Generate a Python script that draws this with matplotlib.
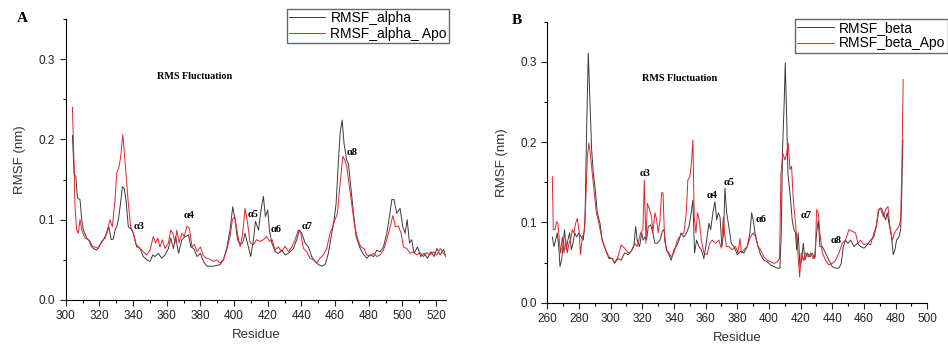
import numpy as np
import matplotlib
matplotlib.use("Agg")
import matplotlib.pyplot as plt
from matplotlib.ticker import MultipleLocator

# --- datos (residuo, RMSF en nm) ---
res_alpha = [304, 305, 306, 307, 308.5, 309.5, 310.5, 312.5, 314.5, 316.4, 318.4, 320.4, 322.4, 324.4,
             325.7, 327, 328.3, 329.3, 330.3, 331.3, 332.3, 333.7, 334.7, 335.8, 337.2, 338.6, 340.2,
             341.8, 344.2, 346.1, 348.1, 350.1, 351.7, 353, 355, 357, 359, 361, 362.4, 364, 365.3, 367,
             369, 371, 373, 374.3, 376, 378, 380, 381.8, 383.8, 387.7, 391.7, 393.7, 395.6, 397.6, 399.2,
             400.6, 402, 403.6, 405.1, 406.5, 407.9, 409.9, 411.5, 412.7, 414.5, 416, 417.4, 418.6, 420,
             421, 422.4, 424.4, 426.3, 428.3, 430.3, 432.3, 435.2, 437.2, 438.8, 440.2, 442.2, 444.2,
             446.1, 448.1, 450.1, 452.1, 454.1, 456, 458, 459.4, 460.6, 462, 463, 464.2, 465.3, 466.9,
             467.9, 469.3, 470.9, 472.5, 474.5, 476.4, 478.8, 480.8, 482.8, 484.8, 486.7, 488.7, 490.7,
             492.3, 493.7, 495, 496.6, 498.6, 500.2, 501.6, 502.8, 504.2, 505.5, 506.9, 508.9, 510.9,
             512.9, 514.9, 516.8, 518.8, 520.4, 522.4, 524.4, 525.5]
rmsf_alpha = [0.205, 0.156, 0.154, 0.127, 0.125, 0.100, 0.087, 0.077, 0.073, 0.064, 0.062, 0.069, 0.075,
              0.083, 0.091, 0.075, 0.076, 0.087, 0.091, 0.100, 0.116, 0.141, 0.139, 0.125, 0.091, 0.089,
              0.083, 0.069, 0.064, 0.054, 0.050, 0.048, 0.056, 0.054, 0.058, 0.052, 0.056, 0.064, 0.077,
              0.064, 0.079, 0.058, 0.075, 0.079, 0.081, 0.066, 0.064, 0.054, 0.058, 0.048, 0.042, 0.042,
              0.044, 0.050, 0.064, 0.087, 0.116, 0.100, 0.075, 0.069, 0.071, 0.083, 0.071, 0.054, 0.075,
              0.098, 0.087, 0.112, 0.129, 0.104, 0.112, 0.087, 0.071, 0.060, 0.058, 0.062, 0.056, 0.058,
              0.064, 0.075, 0.087, 0.083, 0.071, 0.066, 0.054, 0.048, 0.044, 0.042, 0.044, 0.058, 0.083,
              0.100, 0.120, 0.174, 0.208, 0.224, 0.195, 0.174, 0.170, 0.141, 0.108, 0.079, 0.066, 0.058,
              0.052, 0.056, 0.054, 0.062, 0.060, 0.066, 0.083, 0.104, 0.125, 0.125, 0.108, 0.114, 0.091,
              0.083, 0.100, 0.071, 0.075, 0.058, 0.066, 0.054, 0.058, 0.052, 0.060, 0.054, 0.064, 0.056,
              0.063, 0.056]

res_alpha_apo = [304, 305, 305.5, 306.5, 307.5, 308.5, 309.5, 311.5, 313.5, 315.4, 317.4, 319.4, 321.4,
                 323.4, 324.8, 326.3, 327.7, 329.3, 330.3, 331.5, 332.7, 333.9, 334.7, 335.8, 337.2,
                 338.6, 340.2, 342.2, 344.2, 346.1, 348.1, 350.1, 352, 353.4, 354.7, 356, 357.4, 359, 361,
                 362.4, 363.6, 365, 366, 367.3, 369, 370.4, 372, 373.5, 375, 376.4, 378, 380, 381.5,
                 383.4, 385.3, 387.7, 389.7, 391.7, 393.7, 395.6, 397.6, 399, 400.4, 402, 403.6, 405.1,
                 406.5, 407.9, 409.5, 411.5, 413.4, 415.4, 417.4, 419.4, 421, 422.6, 424.4, 426.3, 428.3,
                 430.3, 432.3, 434.3, 436.2, 438.2, 439.6, 441.2, 443.2, 445.1, 447.1, 449.1, 451, 453,
                 455, 457, 458.6, 460, 461.4, 462.6, 463.6, 464.6, 465.8, 466.9, 468.5, 470.1, 471.7,
                 473.3, 475.2, 477.2, 478.8, 480.8, 482.8, 484.8, 486.7, 488.7, 490.7, 492.7, 494.3,
                 495.9, 497.6, 499.2, 500.6, 502.6, 504.6, 506.5, 508.5, 510.5, 512.5, 514.5, 516.4,
                 518.4, 520.4, 522.4, 524.4, 525.7]
rmsf_alpha_apo = [0.240, 0.166, 0.116, 0.087, 0.083, 0.100, 0.087, 0.077, 0.075, 0.066, 0.066, 0.064,
                  0.073, 0.077, 0.087, 0.100, 0.091, 0.125, 0.158, 0.164, 0.179, 0.206, 0.187, 0.158,
                  0.120, 0.091, 0.083, 0.066, 0.064, 0.060, 0.056, 0.062, 0.079, 0.071, 0.077, 0.066,
                  0.075, 0.064, 0.071, 0.087, 0.083, 0.071, 0.087, 0.071, 0.083, 0.079, 0.092, 0.089,
                  0.066, 0.069, 0.060, 0.066, 0.056, 0.052, 0.051, 0.048, 0.050, 0.046, 0.050, 0.062,
                  0.079, 0.100, 0.104, 0.083, 0.066, 0.083, 0.114, 0.098, 0.071, 0.069, 0.075, 0.073,
                  0.075, 0.079, 0.073, 0.075, 0.062, 0.066, 0.060, 0.067, 0.060, 0.066, 0.075, 0.087,
                  0.083, 0.064, 0.060, 0.052, 0.050, 0.046, 0.052, 0.056, 0.064, 0.083, 0.091, 0.100,
                  0.108, 0.137, 0.158, 0.179, 0.174, 0.166, 0.141, 0.116, 0.091, 0.077, 0.066, 0.064,
                  0.056, 0.055, 0.058, 0.054, 0.056, 0.062, 0.075, 0.091, 0.105, 0.091, 0.092, 0.083,
                  0.066, 0.064, 0.058, 0.060, 0.056, 0.059, 0.054, 0.059, 0.056, 0.060, 0.056, 0.064,
                  0.058, 0.054]

res_beta = [263.2, 264.2, 265.3, 266.3, 267.4, 268, 269, 270.1, 270.9, 272, 273, 274.1, 275.2, 276.2,
            277.3, 278.5, 280, 281.5, 282.7, 283.8, 284.8, 285.9, 286.9, 288, 289.1, 290.1, 291.6,
            293.3, 294.7, 296.8, 299, 301.1, 302.5, 304.6, 306.7, 308.8, 311, 313, 314.7, 315.8, 316.8,
            318.3, 319.6, 320.6, 321.7, 322.7, 323.8, 325.3, 326.7, 328, 329.5, 331.2, 332.6, 333.7,
            335.2, 336.8, 338.3, 340, 341.5, 343.2, 344.6, 346.3, 348, 349.5, 350.9, 352, 353, 354.3,
            355.8, 357.3, 358.9, 360.4, 362.1, 363.2, 364.6, 365.9, 367, 368, 369.1, 370.3, 371.4,
            372.2, 373.3, 374.7, 376.2, 377.9, 380, 382.1, 384.2, 386.3, 388, 389.1, 390.1, 391.2,
            392.6, 394.7, 396.8, 399, 401.1, 403.2, 405.3, 406.9, 407.8, 408.6, 409.7, 410.3, 411.2,
            412, 412.8, 413.7, 414.7, 415.8, 416.8, 417.5, 418.5, 419.6, 420.6, 421.7, 422.7, 424.2,
            425.9, 427.4, 428.8, 430.1, 431.2, 432.2, 433.7, 435.8, 437.9, 440, 442.1, 444.2, 445.7,
            447, 448.4, 449.9, 451.6, 453.7, 455.8, 457.9, 460, 462.1, 464.2, 466.3, 467.8, 469.5,
            470.9, 472.2, 473.7, 474.7, 476.2, 477.5, 478.5, 479.6, 480.6, 482.1, 483.2, 483.8, 484.6]
rmsf_beta = [0.082, 0.070, 0.078, 0.087, 0.066, 0.045, 0.053, 0.074, 0.091, 0.066, 0.078, 0.087, 0.066,
             0.074, 0.087, 0.082, 0.087, 0.082, 0.078, 0.099, 0.211, 0.311, 0.253, 0.191, 0.161, 0.145,
             0.112, 0.099, 0.078, 0.066, 0.055, 0.055, 0.049, 0.055, 0.053, 0.062, 0.060, 0.064, 0.070,
             0.095, 0.078, 0.070, 0.087, 0.078, 0.082, 0.078, 0.095, 0.097, 0.087, 0.074, 0.074, 0.078,
             0.089, 0.091, 0.066, 0.060, 0.053, 0.066, 0.070, 0.078, 0.087, 0.082, 0.087, 0.095, 0.112,
             0.128, 0.062, 0.078, 0.070, 0.066, 0.055, 0.074, 0.099, 0.091, 0.112, 0.126, 0.103, 0.112,
             0.107, 0.070, 0.087, 0.143, 0.112, 0.095, 0.074, 0.070, 0.060, 0.064, 0.062, 0.070, 0.087,
             0.112, 0.103, 0.087, 0.074, 0.060, 0.053, 0.051, 0.047, 0.045, 0.043, 0.043, 0.087, 0.191,
             0.253, 0.299, 0.233, 0.161, 0.145, 0.128, 0.103, 0.091, 0.087, 0.066, 0.087, 0.045, 0.053,
             0.074, 0.053, 0.062, 0.057, 0.062, 0.055, 0.087, 0.103, 0.070, 0.070, 0.062, 0.053, 0.045,
             0.043, 0.043, 0.049, 0.070, 0.078, 0.074, 0.078, 0.070, 0.074, 0.070, 0.068, 0.072, 0.078,
             0.082, 0.095, 0.116, 0.118, 0.112, 0.103, 0.112, 0.095, 0.082, 0.060, 0.066, 0.078, 0.082,
             0.091, 0.128, 0.203]

res_beta_apo = [263.2, 263.8, 264.8, 265.9, 266.7, 267.6, 268.4, 269.5, 270.5, 271.6, 272.6, 273.7,
                274.7, 275.8, 276.8, 277.9, 278.9, 280, 281, 282.1, 283.2, 284.2, 285.3, 286.3, 287.4,
                288.4, 289.5, 291, 292.6, 294.7, 296.8, 299, 301.1, 302.5, 304.6, 306.7, 308.8, 311,
                313, 315.1, 316.8, 318.9, 320.4, 321.3, 322.3, 323.2, 324.6, 325.9, 326.7, 328, 329.1,
                330, 331.2, 332.2, 333.1, 334.1, 335.4, 336.8, 338.3, 340, 342.1, 344.2, 346.3, 347.8,
                348.8, 350.1, 351.2, 352, 352.8, 353.9, 354.9, 356, 357.3, 358.9, 361, 362.5, 364.2,
                366.3, 368.4, 369.9, 371.2, 372, 373.1, 374.7, 376.8, 378.9, 380.4, 381.7, 382.7, 384.2,
                386.3, 388.4, 390.1, 391.6, 393.1, 394.7, 396.8, 399, 401.1, 403.2, 405.3, 406.7, 407.6,
                408.8, 410.1, 411.2, 412.2, 413.3, 414.3, 415.4, 416.2, 417.3, 418.3, 419.4, 420.4,
                421.7, 423.2, 424.8, 426.3, 428, 429.3, 430.1, 431.2, 432.2, 433.7, 435.8, 437.9, 440,
                442.1, 444.2, 446.3, 448.4, 450.5, 452.6, 454.7, 456.2, 457.9, 460, 462.1, 464.2, 466.3,
                467.8, 469.1, 470.5, 472.2, 473.7, 475.2, 476.4, 477.9, 479.4, 480.6, 482.1, 483.2, 484,
                484.8]
rmsf_beta_apo = [0.157, 0.091, 0.091, 0.101, 0.099, 0.078, 0.062, 0.082, 0.062, 0.078, 0.062, 0.074,
                 0.078, 0.091, 0.087, 0.099, 0.105, 0.091, 0.060, 0.082, 0.087, 0.120, 0.182, 0.199,
                 0.182, 0.161, 0.141, 0.112, 0.099, 0.078, 0.066, 0.057, 0.055, 0.050, 0.057, 0.072,
                 0.068, 0.062, 0.064, 0.074, 0.070, 0.087, 0.091, 0.153, 0.074, 0.124, 0.116, 0.107,
                 0.087, 0.112, 0.103, 0.087, 0.103, 0.137, 0.137, 0.078, 0.066, 0.062, 0.057, 0.062,
                 0.078, 0.084, 0.087, 0.112, 0.153, 0.157, 0.178, 0.203, 0.107, 0.087, 0.112, 0.103,
                 0.078, 0.062, 0.060, 0.074, 0.078, 0.074, 0.078, 0.068, 0.107, 0.087, 0.070, 0.070,
                 0.066, 0.070, 0.062, 0.080, 0.062, 0.066, 0.070, 0.082, 0.087, 0.082, 0.070, 0.066,
                 0.057, 0.053, 0.051, 0.049, 0.051, 0.055, 0.161, 0.186, 0.178, 0.186, 0.199, 0.166,
                 0.170, 0.128, 0.112, 0.087, 0.062, 0.032, 0.062, 0.053, 0.062, 0.057, 0.062, 0.055,
                 0.057, 0.116, 0.112, 0.087, 0.062, 0.053, 0.047, 0.049, 0.053, 0.062, 0.074, 0.078,
                 0.091, 0.089, 0.087, 0.074, 0.078, 0.072, 0.074, 0.072, 0.087, 0.095, 0.116, 0.118,
                 0.107, 0.116, 0.120, 0.095, 0.078, 0.087, 0.091, 0.095, 0.103, 0.170, 0.278]

# etiquetas de helices (x, y)
lab_alpha = ["α3", "α4", "α5", "α6", "α7", "α8"]
pos_alpha = [(343.5, 0.092), (373.4, 0.105), (411.5, 0.107), (425.0, 0.088), (443.6, 0.091), (470.0, 0.184)]
lab_beta = ["α3", "α4", "α5", "α6", "α7", "α8"]
pos_beta = [(321.5, 0.161), (364.0, 0.134), (374.8, 0.150), (395.2, 0.104), (423.2, 0.109), (442.6, 0.077)]

negro = "#3a3a3a"
rojo = "#e3232c"
serif = "Liberation Serif"
plt.rcParams["font.family"] = ["Liberation Sans", "DejaVu Sans"]

fig = plt.figure(figsize=(9.48, 3.52), dpi=100)
axA = fig.add_axes([0.0693, 0.148, 0.4014, 0.798])
axB = fig.add_axes([0.5773, 0.140, 0.4008, 0.798])


def formato(ax, xmin, xmax):
    ax.set_xlim(xmin, xmax)
    ax.set_ylim(0, 0.35)
    ax.spines["top"].set_visible(False)
    ax.spines["right"].set_visible(False)
    ax.xaxis.set_major_locator(MultipleLocator(20))
    ax.xaxis.set_minor_locator(MultipleLocator(10))
    ax.yaxis.set_major_locator(MultipleLocator(0.1))
    ax.yaxis.set_minor_locator(MultipleLocator(0.05))
    ax.tick_params(which="major", length=4, width=0.8, labelsize=8.5, colors="#222222")
    ax.tick_params(which="minor", length=2.5, width=0.8)
    ax.set_xlabel("Residue", fontsize=9.5, color="#333333", labelpad=5)
    ax.set_ylabel("RMSF (nm)", fontsize=9.5, color="#333333", labelpad=9)


# --- Panel A ---
axA.plot(res_alpha, rmsf_alpha, color=negro, lw=0.7, label="RMSF_alpha")
axA.plot(res_alpha_apo, rmsf_alpha_apo, color=rojo, lw=0.7, label="RMSF_alpha_ Apo")
formato(axA, 300, 526)
for t, (x, y) in zip(lab_alpha, pos_alpha):
    axA.text(x, y, t, family=serif, fontweight="bold", fontsize=7.5, ha="center", va="center")
axA.text(0.34, 0.795, "RMS Fluctuation", transform=axA.transAxes, family=serif,
         fontweight="bold", fontsize=7.3, ha="center", va="center")
fig.text(0.024, 0.948, "A", family=serif, fontweight="bold", fontsize=11, ha="center", va="center")
axA.legend(loc="upper right", bbox_to_anchor=(0.4736, 0.974), bbox_transform=fig.transFigure,
           fontsize=10, frameon=True, fancybox=False, edgecolor="#666666", framealpha=1,
           handlelength=2.6, borderpad=0.15, labelspacing=0.1, handletextpad=0.4, borderaxespad=0)

# --- Panel B ---
axB.plot(res_beta, rmsf_beta, color=negro, lw=0.7, label="RMSF_beta")
axB.plot(res_beta_apo, rmsf_beta_apo, color=rojo, lw=0.7, label="RMSF_beta_Apo")
formato(axB, 260, 500)
for t, (x, y) in zip(lab_beta, pos_beta):
    axB.text(x, y, t, family=serif, fontweight="bold", fontsize=7.5, ha="center", va="center")
axB.text(0.349, 0.797, "RMS Fluctuation", transform=axB.transAxes, family=serif,
         fontweight="bold", fontsize=7.3, ha="center", va="center")
fig.text(0.5455, 0.943, "B", family=serif, fontweight="bold", fontsize=11, ha="center", va="center")
axB.legend(loc="upper right", bbox_to_anchor=(0.9995, 0.946), bbox_transform=fig.transFigure,
           fontsize=10, frameon=True, fancybox=False, edgecolor="#666666", framealpha=1,
           handlelength=2.6, borderpad=0.15, labelspacing=0.1, handletextpad=0.4, borderaxespad=0)

plt.savefig("out.png", dpi=100)
